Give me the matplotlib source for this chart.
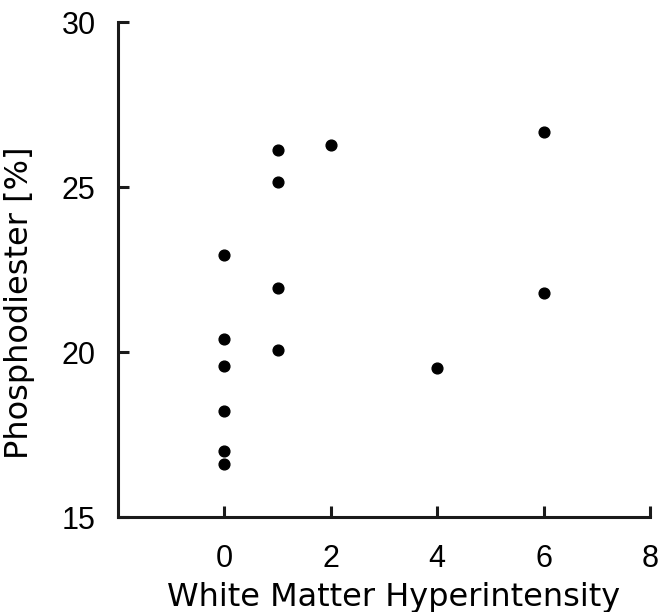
import matplotlib
matplotlib.use("Agg")
import matplotlib.pyplot as plt

# White matter hyperintensity grade vs phosphodiester fraction
wmh = [0, 0, 0, 0, 0, 0, 1, 1, 1, 1, 2, 4, 6, 6]
pde = [22.95, 20.4, 19.58, 18.22, 17.0, 16.6,
       26.12, 25.15, 21.95, 20.07, 26.27, 19.52, 26.68, 21.8]

x_ticks = [0, 2, 4, 6, 8]
y_ticks = [15, 20, 25, 30]

plt.rcParams['font.family'] = ['DejaVu Sans']

fig = plt.figure(figsize=(6.7, 6.12), dpi=100)
ax = fig.add_axes([0.176, 0.155, 0.794, 0.809])

ax.scatter(wmh, pde, s=60, color='black', zorder=3, clip_on=False)

ax.set_xlim(-2, 8)
ax.set_ylim(15, 30)
ax.set_xticks(x_ticks)
ax.set_yticks(y_ticks)

for side in ['top', 'right']:
    ax.spines[side].set_visible(False)
for side in ['left', 'bottom']:
    ax.spines[side].set_linewidth(2.2)
    ax.spines[side].set_color('#1a1a1a')

ax.tick_params(direction='in', length=8, width=2.2, color='#1a1a1a',
               labelsize=22, labelfontfamily='Liberation Sans')
ax.tick_params(axis='x', pad=19)
ax.tick_params(axis='y', pad=16)

ax.set_xlabel("White Matter Hyperintensity", fontsize=23)
ax.set_ylabel("Phosphodiester [%]", fontsize=23)
ax.xaxis.set_label_coords(0.519, -0.13)
ax.yaxis.set_label_coords(-0.155, 0.434)

fig.savefig("out.png", dpi=100)
